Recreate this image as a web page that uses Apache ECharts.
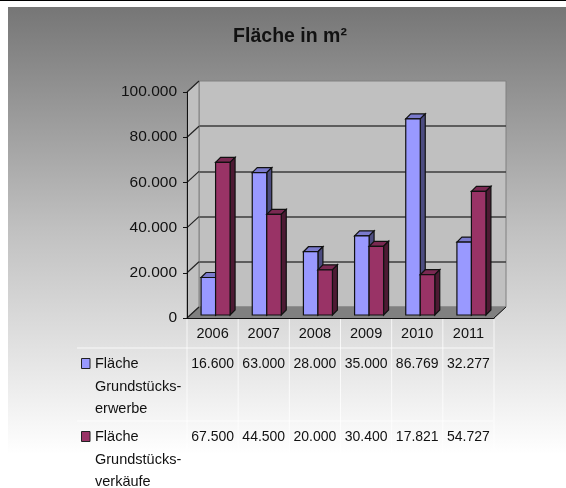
<!DOCTYPE html>
<html>
<head>
<meta charset="utf-8">
<title>Fläche in m²</title>
<script src="https://cdn.jsdelivr.net/npm/echarts@6/dist/echarts.min.js"></script>
<style>
  html, body { margin: 0; padding: 0; background: #fff; }
  #main {
    width: 566px;
    height: 488px;
    border-top: 1px solid #000;
    box-sizing: border-box;
    background: linear-gradient(#767676 0, #c0c0c0 46%, #ffffff 93%) no-repeat 8px 6px / 558px 481px;
  }
</style>
</head>
<body>
<div id="main"></div>
<script>
const title = "Fläche in m²";
const years = ["2006", "2007", "2008", "2009", "2010", "2011"];
const erwerbe = [16600, 63000, 28000, 35000, 86769, 32277];
const verkaeufe = [67500, 44500, 20000, 30400, 17821, 54727];
const yTicks = [0, 20000, 40000, 60000, 80000, 100000];
const rowNames = [
  ["Fläche", "Grundstücks-", "erwerbe"],
  ["Fläche", "Grundstücks-", "verkäufe"]
];

const font = '"Liberation Sans", Arial, sans-serif';
const textColor = "#111";
const DEPTH_X = 12, DEPTH_Y = 11;   // how far the back wall sits behind the front plane
const BAR_W = 14.5, BAR_D = 5;      // bar width and bar depth
const ROW_Y = [363, 436];           // table row text centres
const TABLE_LINES = [347, 420];     // horizontal table separators
const TABLE_TOP = 318, TABLE_BOTTOM = 468, TABLE_LEFT = 77;

function fmt(v) {
  return String(v).replace(/\B(?=(\d{3})+$)/g, ".");
}

function poly(points, fill, stroke, lw) {
  return {
    type: "polygon",
    shape: {points: points},
    style: {fill: fill, stroke: stroke || null, lineWidth: lw || 1}
  };
}

function line(x1, y1, x2, y2, color, lw) {
  return {
    type: "line",
    shape: {x1: x1, y1: y1, x2: x2, y2: y2},
    style: {stroke: color, lineWidth: lw || 1}
  };
}

// side wall and floor
function renderWalls(params, api) {
  const band = api.size([1, 0])[0];
  const l = api.coord([0, 0])[0] - band / 2;
  const r = api.coord([years.length - 1, 0])[0] + band / 2;
  const b = api.coord([0, 0])[1];
  const t = api.coord([0, 100000])[1];
  return {
    type: "group",
    children: [
      poly([[l, b], [l, t], [l + DEPTH_X, t - DEPTH_Y], [l + DEPTH_X, b - DEPTH_Y]], "#c0c0c0", "#808080"),
      poly([[l, b], [l + DEPTH_X, b - DEPTH_Y], [r + DEPTH_X, b - DEPTH_Y], [r, b]], "#808080", "#808080"),
      line(r, b, r + DEPTH_X, b - DEPTH_Y, "#111")
    ]
  };
}

// slanted gridline over the side wall for each tick
function renderSlant(params, api) {
  const band = api.size([1, 0])[0];
  const p = api.coord([0, api.value(0)]);
  const l = p[0] - band / 2;
  return line(l, p[1], l + DEPTH_X, p[1] - DEPTH_Y, "#222", 1.2);
}

function makeBar(side, front, top, dark) {
  return function (params, api) {
    const idx = api.value(0);
    const val = api.value(1);
    const base = api.coord([idx, 0]);
    const head = api.coord([idx, val]);
    const c = base[0] + 3;
    const x0 = side < 0 ? c - BAR_W : c;
    const x1 = x0 + BAR_W;
    const y0 = base[1] - 3;
    const y1 = head[1] - 3;
    return {
      type: "group",
      children: [
        poly([[x0, y1], [x1, y1], [x1 + BAR_D, y1 - BAR_D], [x0 + BAR_D, y1 - BAR_D]], top, "#111", 1.2),
        poly([[x1, y0], [x1, y1], [x1 + BAR_D, y1 - BAR_D], [x1 + BAR_D, y0 - BAR_D]], dark, "#111", 1.2),
        poly([[x0, y0], [x0, y1], [x1, y1], [x1, y0]], front, "#111", 1.2)
      ]
    };
  };
}

function renderCell(rowY) {
  return function (params, api) {
    return {
      type: "text",
      style: {
        text: fmt(api.value(1)),
        x: api.coord([api.value(0), 0])[0],
        y: rowY,
        align: "center",
        verticalAlign: "middle",
        font: "14px " + font,
        fill: textColor
      }
    };
  };
}

// white table rules; the x positions come from the category axis
function renderTableLines(params, api) {
  const band = api.size([1, 0])[0];
  const x = api.coord([api.value(0), 0])[0] - band / 2;
  return line(x, TABLE_TOP, x, TABLE_BOTTOM, "rgba(255,255,255,0.75)");
}

const legendGraphics = [];
const keyColors = ["#9999ff", "#993366"];
rowNames.forEach(function (lines, r) {
  legendGraphics.push({
    type: "rect",
    shape: {x: 81.5, y: ROW_Y[r] - 5.5, width: 8.5, height: 10},
    style: {fill: keyColors[r], stroke: "#222", lineWidth: 1}
  });
  lines.forEach(function (txt, i) {
    legendGraphics.push({
      type: "text",
      x: 95,
      y: ROW_Y[r] + i * 22.5,
      style: {text: txt, font: "14.5px " + font, fill: textColor, verticalAlign: "middle"}
    });
  });
});
TABLE_LINES.forEach(function (y) {
  legendGraphics.push({
    type: "line",
    shape: {x1: TABLE_LEFT, y1: y, x2: 493, y2: y},
    style: {stroke: "rgba(255,255,255,0.8)", lineWidth: 1}
  });
});

const chart = echarts.init(document.getElementById("main"), null, {width: 566, height: 488});

const frontGrid = {left: 187, top: 91, width: 307, height: 226};
const backGrid = {
  left: 187 + DEPTH_X, top: 91 - DEPTH_Y, width: 307, height: 226,
  show: true, backgroundColor: "#c0c0c0", borderColor: "#808080", borderWidth: 1
};

chart.setOption({
  animation: false,
  title: {
    text: title,
    left: 285,
    top: 21,
    textAlign: "center",
    textStyle: {fontFamily: font, fontSize: 19.5, fontWeight: "bold", color: textColor}
  },
  graphic: legendGraphics,
  grid: [frontGrid, backGrid],
  xAxis: [
    {
      type: "category",
      gridIndex: 0,
      data: years,
      z: 3,
      axisLine: {lineStyle: {color: "#111"}},
      axisTick: {show: false},
      axisLabel: {fontFamily: font, fontSize: 14.5, color: textColor, margin: 8},
      splitLine: {show: false}
    },
    {type: "category", gridIndex: 1, data: years, show: false}
  ],
  yAxis: [
    {
      type: "value",
      gridIndex: 0,
      min: 0,
      max: 100000,
      interval: 20000,
      z: 3,
      axisLine: {show: true, lineStyle: {color: "#111"}},
      axisTick: {show: true, length: 4, lineStyle: {color: "#111"}},
      axisLabel: {fontFamily: font, fontSize: 15.5, color: textColor, margin: 10, padding: [5, 0, 0, 0], formatter: fmt},
      splitLine: {show: false}
    },
    {
      type: "value",
      gridIndex: 1,
      min: 0,
      max: 100000,
      interval: 20000,
      axisLine: {show: false},
      axisTick: {show: false},
      axisLabel: {show: false},
      splitLine: {show: true, showMinLine: false, showMaxLine: false, lineStyle: {color: "#3c3c3c", width: 1.5}}
    }
  ],
  series: [
    {type: "custom", name: "walls", xAxisIndex: 0, yAxisIndex: 0, silent: true, data: [[0, 0]], renderItem: renderWalls},
    {type: "custom", name: "slants", xAxisIndex: 0, yAxisIndex: 0, silent: true, encode: {y: 0},
      data: yTicks.map(function (v) { return [v]; }), renderItem: renderSlant},
    {type: "custom", name: "Fläche Grundstückserwerbe", xAxisIndex: 0, yAxisIndex: 0,
      data: erwerbe.map(function (v, i) { return [i, v]; }),
      renderItem: makeBar(-1, "#9999ff", "#7a7acc", "#4c4c80")},
    {type: "custom", name: "Fläche Grundstücksverkäufe", xAxisIndex: 0, yAxisIndex: 0,
      data: verkaeufe.map(function (v, i) { return [i, v]; }),
      renderItem: makeBar(1, "#993366", "#7a2952", "#4d1a33")},
    {type: "custom", name: "table lines", xAxisIndex: 0, yAxisIndex: 0, silent: true,
      data: years.concat([""]).map(function (y, i) { return [i, 0]; }), renderItem: renderTableLines},
    {type: "custom", name: "row 1", xAxisIndex: 0, yAxisIndex: 0,
      data: erwerbe.map(function (v, i) { return [i, v]; }), renderItem: renderCell(ROW_Y[0])},
    {type: "custom", name: "row 2", xAxisIndex: 0, yAxisIndex: 0,
      data: verkaeufe.map(function (v, i) { return [i, v]; }), renderItem: renderCell(ROW_Y[1])}
  ]
});
</script>
</body>
</html>
